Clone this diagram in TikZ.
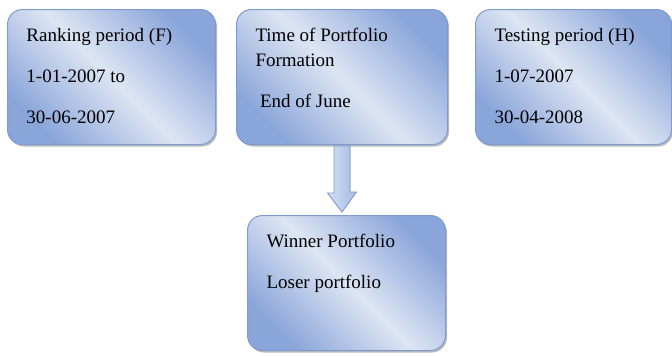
\documentclass[tikz,border=0pt]{standalone}
\usepackage{fontspec}
\setmainfont{Liberation Serif}
\usetikzlibrary{calc,shadows}
\definecolor{boxdark}{HTML}{8AA5DA}
\definecolor{boxlight}{HTML}{DDE5F3}
\definecolor{boxedge}{HTML}{7E9BD0}
\definecolor{arrowlight}{HTML}{D3DEF2}
\definecolor{arrowdark}{HTML}{A5BBE5}
\newcommand{\boxtext}[3]{\parbox[c][#2][t]{#1}{\fontsize{19}{25}\selectfont\raggedright\vspace*{19pt}#3}}
\begin{document}
\begin{tikzpicture}[x=1pt, y=-1pt,
		panel/.style={anchor=north west, inner xsep=19pt, inner ysep=0pt, rounded corners=15pt,
			draw=boxedge, line width=1pt, top color=boxdark, bottom color=boxdark, middle color=boxlight,
			shading angle=-45, drop shadow={shadow xshift=1.5pt, shadow yshift=-2pt, opacity=.45, fill=black!60}},
		blockarrow/.style={draw=boxedge, line width=.8pt, left color=arrowlight, right color=arrowdark, line join=miter}]
		\useasboundingbox (0, 0) rectangle (672, 356);
		% periods
		\node[panel] (rank) at (7, 9) {\boxtext{170pt}{135pt}{Ranking period (F)\\[16pt]1-01-2007 to\\[16pt]30-06-2007}};
		\node[panel] (time) at (236, 9) {\boxtext{173pt}{135pt}{Time of Portfolio Formation\\[16pt]\hspace*{4.5pt}End of June}};
		\node[panel] (test) at (475, 9) {\boxtext{158pt}{135pt}{Testing period (H)\\[16pt]1-07-2007\\[16pt]30-04-2008}};
		% portfolios
		\node[panel] (groups) at (247, 215) {\boxtext{160pt}{135pt}{Winner Portfolio\\[16pt]Loser portfolio}};
		% block arrow
		\coordinate (tip) at ($(time.south |- groups.north)+(0, -3)$);
		\filldraw[blockarrow] ($(time.south)+(-8, 1)$) -- ++(0, 47) -- ++(-6.5, 0) -- (tip)
			-- ($(tip)+(14.5, -20)$) -- ++(-6.5, 0) -- ($(time.south)+(8, 1)$) -- cycle;
	\end{tikzpicture}
\end{document}
